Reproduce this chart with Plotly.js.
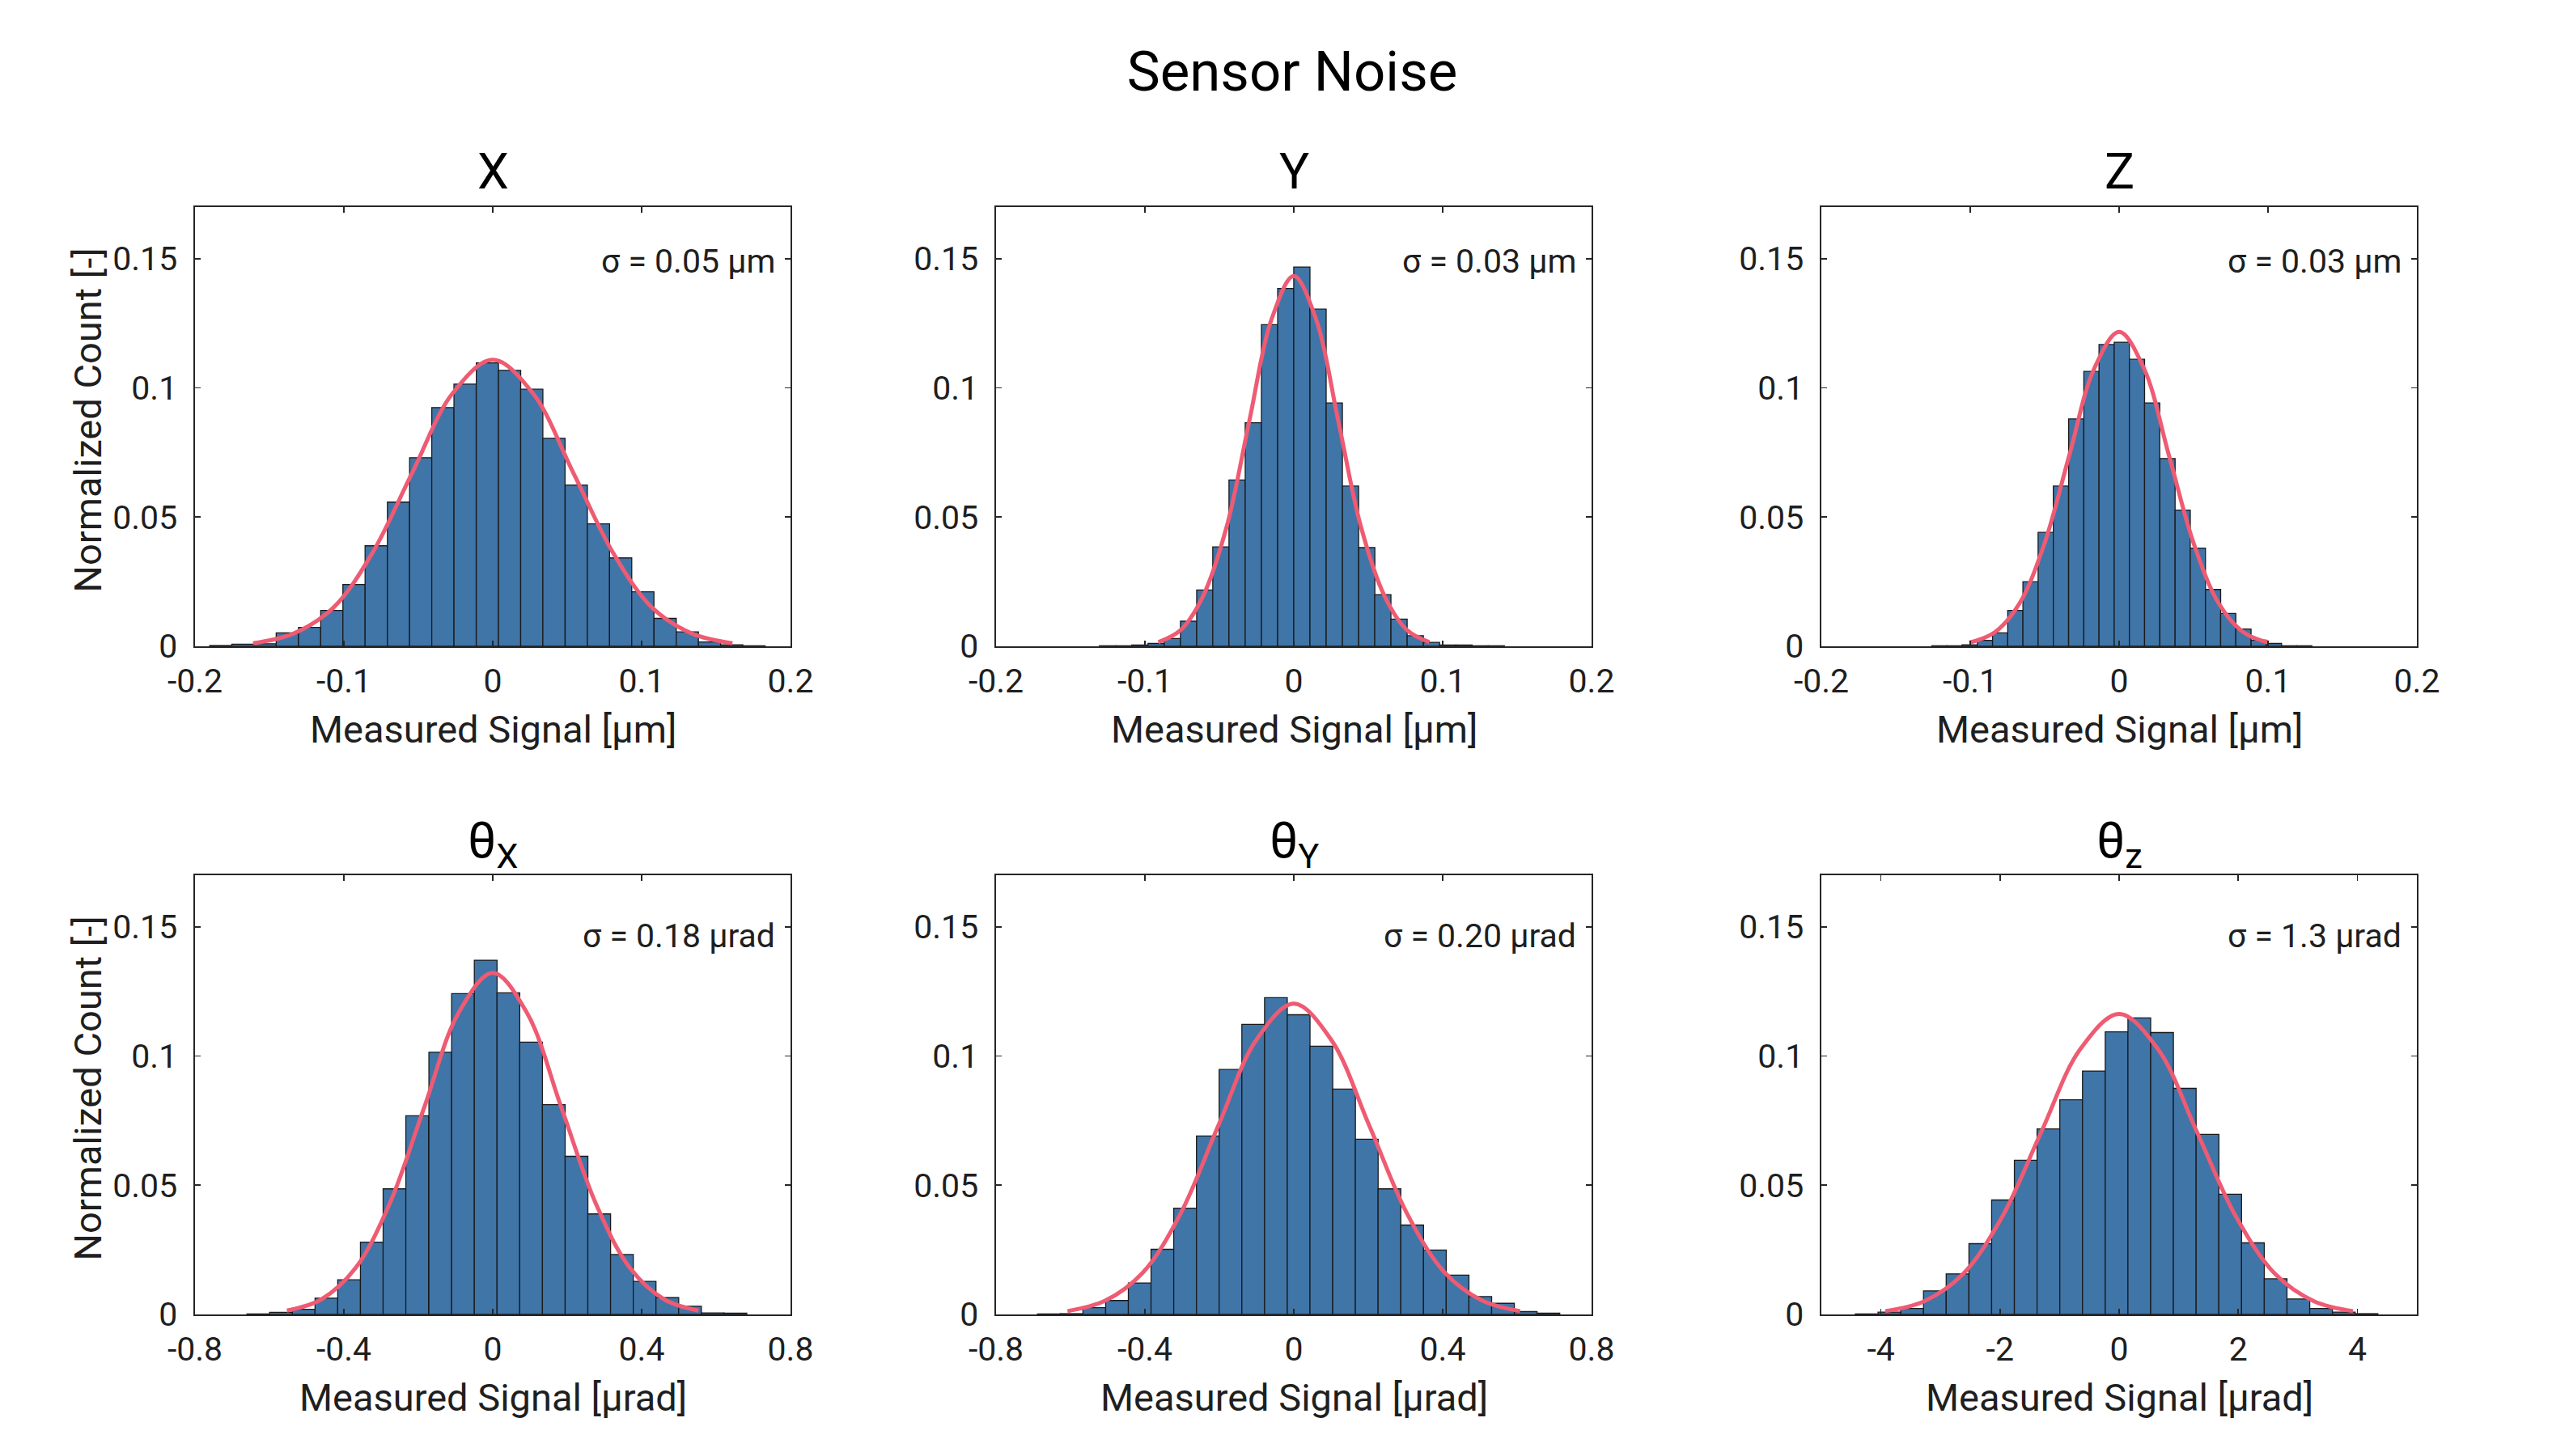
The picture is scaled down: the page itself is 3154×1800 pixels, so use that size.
<!DOCTYPE html>
<html>
<head>
<meta charset="utf-8">
<script src="https://cdn.plot.ly/plotly-3.0.1.min.js"></script>
<style>html,body{margin:0;padding:0;background:#fff;}#chart{width:3154px;height:1800px;}</style>
</head>
<body>
<div id="chart"></div>
<script>
// ---------- data ----------
const panelTitles = ['X', 'Y', 'Z', 'θ<sub>X</sub>', 'θ<sub>Y</sub>', 'θ<sub>z</sub>'];
const sigmaLabels = ['σ = 0.05 μm', 'σ = 0.03 μm', 'σ = 0.03 μm', 'σ = 0.18 μrad', 'σ = 0.20 μrad', 'σ = 1.3 μrad'];
const xAxisLabels = ['Measured Signal [μm]', 'Measured Signal [μm]', 'Measured Signal [μm]',
                     'Measured Signal [μrad]', 'Measured Signal [μrad]', 'Measured Signal [μrad]'];
const yAxisLabel = 'Normalized Count [-]';
const mainTitle = 'Sensor Noise';

const binWidths = [0.01492, 0.01088, 0.01022, 0.0611, 0.0611, 0.3815];

const binsX = [-0.1827, -0.1678, -0.1529, -0.1380, -0.1230, -0.1081, -0.0932, -0.0783, -0.0633, -0.0484, -0.0335, -0.0186, -0.0036, 0.0113, 0.0262, 0.0411, 0.0561, 0.0710, 0.0859, 0.1008, 0.1158, 0.1307, 0.1456, 0.1605, 0.1755];
const countsX = [0.0003, 0.0008, 0.0010, 0.0052, 0.0073, 0.0139, 0.0239, 0.0389, 0.0558, 0.0730, 0.0924, 0.1015, 0.1097, 0.1068, 0.0995, 0.0805, 0.0624, 0.0474, 0.0342, 0.0211, 0.0108, 0.0056, 0.0017, 0.0006, 0.0002];

const binsY = [-0.1251, -0.1143, -0.1034, -0.0925, -0.0816, -0.0707, -0.0598, -0.0490, -0.0381, -0.0272, -0.0163, -0.0054, 0.0054, 0.0163, 0.0272, 0.0381, 0.0490, 0.0598, 0.0707, 0.0816, 0.0925, 0.1034, 0.1143, 0.1251, 0.1360];
const countsY = [0.0002, 0.0002, 0.0005, 0.0011, 0.0030, 0.0097, 0.0218, 0.0385, 0.0644, 0.0865, 0.1245, 0.1385, 0.1468, 0.1305, 0.0942, 0.0620, 0.0382, 0.0200, 0.0105, 0.0041, 0.0015, 0.0005, 0.0005, 0.0002, 0.0002];

const binsZ = [-0.1208, -0.1106, -0.1004, -0.0901, -0.0799, -0.0697, -0.0595, -0.0493, -0.0391, -0.0288, -0.0186, -0.0084, 0.0018, 0.0120, 0.0222, 0.0325, 0.0427, 0.0529, 0.0631, 0.0733, 0.0835, 0.0938, 0.1040, 0.1142, 0.1244];
const countsZ = [0.0002, 0.0002, 0.0006, 0.0023, 0.0052, 0.0139, 0.0250, 0.0441, 0.0620, 0.0880, 0.1064, 0.1168, 0.1177, 0.1111, 0.0942, 0.0727, 0.0527, 0.0380, 0.0220, 0.0127, 0.0067, 0.0024, 0.0011, 0.0002, 0.0002];

const binsRx = [-0.630, -0.569, -0.508, -0.447, -0.386, -0.325, -0.264, -0.203, -0.141, -0.080, -0.019, 0.042, 0.103, 0.164, 0.225, 0.286, 0.347, 0.408, 0.469, 0.530, 0.591, 0.652];
const countsRx = [0.0002, 0.0008, 0.0020, 0.0063, 0.0134, 0.0280, 0.0486, 0.0769, 0.1015, 0.1242, 0.1371, 0.1245, 0.1054, 0.0812, 0.0612, 0.0389, 0.0232, 0.0128, 0.0065, 0.0032, 0.0006, 0.0005];

const binsRy = [-0.658, -0.597, -0.536, -0.475, -0.414, -0.353, -0.292, -0.231, -0.170, -0.109, -0.048, 0.013, 0.074, 0.135, 0.196, 0.257, 0.318, 0.379, 0.440, 0.501, 0.562, 0.623, 0.684];
const countsRy = [0.0002, 0.0003, 0.0026, 0.0054, 0.0122, 0.0252, 0.0411, 0.0691, 0.0948, 0.1123, 0.1226, 0.1160, 0.1038, 0.0872, 0.0678, 0.0486, 0.0346, 0.0249, 0.0152, 0.0069, 0.0043, 0.0011, 0.0005];

const binsRz = [-4.239, -3.857, -3.476, -3.094, -2.713, -2.331, -1.950, -1.568, -1.187, -0.805, -0.424, -0.042, 0.339, 0.721, 1.102, 1.484, 1.865, 2.247, 2.628, 3.010, 3.391, 3.773, 4.154];
const countsRz = [0.0002, 0.0009, 0.0023, 0.0091, 0.0157, 0.0274, 0.0443, 0.0597, 0.0718, 0.0831, 0.0942, 0.1094, 0.1148, 0.1091, 0.0875, 0.0697, 0.0465, 0.0277, 0.0138, 0.0060, 0.0023, 0.0009, 0.0003];

// fitted normal curves
const fitXx = [-0.161, -0.134, -0.107, -0.081, -0.054, -0.027, 0, 0.027, 0.054, 0.081, 0.107, 0.134, 0.161];
const fitXy = [0.0012, 0.0049, 0.0150, 0.0360, 0.0673, 0.0979, 0.1109, 0.0979, 0.0673, 0.0360, 0.0150, 0.0049, 0.0012];
const fitYx = [-0.091, -0.076, -0.061, -0.045, -0.030, -0.015, 0, 0.015, 0.030, 0.045, 0.061, 0.076, 0.091];
const fitYy = [0.0016, 0.0063, 0.0194, 0.0465, 0.0869, 0.1265, 0.1433, 0.1265, 0.0869, 0.0465, 0.0194, 0.0063, 0.0016];
const fitZx = [-0.1005, -0.0838, -0.0670, -0.0503, -0.0335, -0.0168, 0, 0.0168, 0.0335, 0.0503, 0.0670, 0.0838, 0.1005];
const fitZy = [0.0014, 0.0053, 0.0165, 0.0395, 0.0738, 0.1074, 0.1217, 0.1074, 0.0738, 0.0395, 0.0165, 0.0053, 0.0014];
const fitRxx = [-0.553, -0.461, -0.369, -0.277, -0.184, -0.092, 0, 0.092, 0.184, 0.277, 0.369, 0.461, 0.553];
const fitRxy = [0.0015, 0.0058, 0.0179, 0.0429, 0.0802, 0.1167, 0.1322, 0.1167, 0.0802, 0.0429, 0.0179, 0.0058, 0.0015];
const fitRyx = [-0.608, -0.507, -0.405, -0.304, -0.203, -0.101, 0, 0.101, 0.203, 0.304, 0.405, 0.507, 0.608];
const fitRyy = [0.0013, 0.0053, 0.0163, 0.0391, 0.0730, 0.1062, 0.1203, 0.1062, 0.0730, 0.0391, 0.0163, 0.0053, 0.0013];
const fitRzx = [-3.927, -3.273, -2.618, -1.964, -1.309, -0.655, 0, 0.655, 1.309, 1.964, 2.618, 3.273, 3.927];
const fitRzy = [0.0013, 0.0051, 0.0157, 0.0378, 0.0705, 0.1026, 0.1163, 0.1026, 0.0705, 0.0378, 0.0157, 0.0051, 0.0013];

const xRanges = [[-0.2, 0.2], [-0.2, 0.2], [-0.2, 0.2], [-0.8, 0.8], [-0.8, 0.8], [-5, 5]];
const xTickVals = [[-0.2, -0.1, 0, 0.1, 0.2], [-0.2, -0.1, 0, 0.1, 0.2], [-0.2, -0.1, 0, 0.1, 0.2],
                   [-0.8, -0.4, 0, 0.4, 0.8], [-0.8, -0.4, 0, 0.4, 0.8], [-4, -2, 0, 2, 4]];
const xTickText = [['-0.2', '-0.1', '0', '0.1', '0.2'], ['-0.2', '-0.1', '0', '0.1', '0.2'], ['-0.2', '-0.1', '0', '0.1', '0.2'],
                   ['-0.8', '-0.4', '0', '0.4', '0.8'], ['-0.8', '-0.4', '0', '0.4', '0.8'], ['-4', '-2', '0', '2', '4']];
const yRange = [0, 0.17];
const yTickVals = [0, 0.05, 0.1, 0.15];
const yTickText = ['0', '0.05', '0.1', '0.15'];

const binsAll = [binsX, binsY, binsZ, binsRx, binsRy, binsRz];
const countsAll = [countsX, countsY, countsZ, countsRx, countsRy, countsRz];
const fitXAll = [fitXx, fitYx, fitZx, fitRxx, fitRyx, fitRzx];
const fitYAll = [fitXy, fitYy, fitZy, fitRxy, fitRyy, fitRzy];

// ---------- layout geometry (pixels of the 3154x1800 canvas) ----------
const W = 3154, H = 1800;
const colPx = [[241, 977], [1231, 1967], [2251, 2987]];
const rowPx = [[256, 799], [1082, 1625]];
const titleDrop = [2, 12];

const FONT = 'Roboto, "Noto Sans", sans-serif';
const TXT = '#1f1f1f';
const AX = '#262626';
const BAR = '#4075a8';
const FIT = '#ee5b73';

const traces = [];
const layout = {
  width: W, height: H,
  margin: {l: 0, r: 0, t: 0, b: 0},
  paper_bgcolor: '#ffffff', plot_bgcolor: '#ffffff',
  showlegend: false,
  bargap: 0,
  font: {family: FONT, color: TXT, size: 41},
  title: {text: mainTitle, x: 1597 / W, xanchor: 'center', xref: 'paper',
          y: 1 - 88 / H, yanchor: 'middle', yref: 'paper',
          font: {family: FONT, size: 69, color: '#000000'}},
  annotations: []
};

for (let i = 0; i < 6; i++) {
  const r = Math.floor(i / 3), c = i % 3;
  const xa = 'x' + (i === 0 ? '' : i + 1), ya = 'y' + (i === 0 ? '' : i + 1);
  const xk = 'xaxis' + (i === 0 ? '' : i + 1), yk = 'yaxis' + (i === 0 ? '' : i + 1);
  const x0 = colPx[c][0], x1 = colPx[c][1], y0 = rowPx[r][0], y1 = rowPx[r][1];

  traces.push({
    type: 'bar', x: binsAll[i], y: countsAll[i], width: binWidths[i],
    xaxis: xa, yaxis: ya,
    marker: {color: BAR, line: {color: '#1a1a1a', width: 1.3}},
    hoverinfo: 'x+y'
  });
  traces.push({
    type: 'scatter', mode: 'lines', x: fitXAll[i], y: fitYAll[i],
    xaxis: xa, yaxis: ya,
    line: {color: FIT, width: 5, shape: 'spline', smoothing: 1.0}
  });

  const common = {
    showline: true, linecolor: AX, linewidth: 1.6, mirror: 'ticks',
    ticks: 'inside', ticklen: 7, tickwidth: 1.6, tickcolor: AX,
    showgrid: false, zeroline: false, fixedrange: true,
    tickfont: {family: FONT, size: 41, color: TXT}
  };
  layout[xk] = Object.assign({}, common, {
    domain: [x0 / W, x1 / W], anchor: ya, range: xRanges[i],
    tickmode: 'array', tickvals: xTickVals[i], ticktext: xTickText[i],
    ticklabelstandoff: 6
  });
  layout[yk] = Object.assign({}, common, {
    domain: [1 - y1 / H, 1 - y0 / H], anchor: xa, range: yRange,
    tickmode: 'array', tickvals: yTickVals, ticktext: yTickText,
    ticklabelstandoff: 12
  });

  // panel title
  layout.annotations.push({
    text: panelTitles[i], xref: 'paper', yref: 'paper',
    x: ((x0 + x1) / 2) / W, xanchor: 'center',
    y: 1 - (y0 - 8 + titleDrop[r]) / H, yanchor: 'bottom', showarrow: false,
    font: {family: FONT, size: 62, color: '#000000'}
  });
  // sigma label
  layout.annotations.push({
    text: sigmaLabels[i], xref: xa + ' domain', yref: ya,
    x: 0.977, xanchor: 'right', y: r === 0 ? 0.149 : 0.1465, yanchor: 'middle',
    showarrow: false, font: {family: FONT, size: 41, color: TXT}
  });
  // x axis title
  layout.annotations.push({
    text: xAxisLabels[i], xref: 'paper', yref: 'paper',
    x: ((x0 + x1) / 2) / W, xanchor: 'center',
    y: 1 - (y1 + 102) / H, yanchor: 'middle', showarrow: false,
    font: {family: FONT, size: 47, color: TXT}
  });
  // y axis title (left column only)
  if (c === 0) {
    layout.annotations.push({
      text: yAxisLabel, xref: 'paper', yref: 'paper',
      x: 108 / W, xanchor: 'center',
      y: 1 - ((y0 + y1) / 2 - 8) / H, yanchor: 'middle', textangle: -90, showarrow: false,
      font: {family: FONT, size: 47, color: TXT}
    });
  }
}

Plotly.newPlot('chart', traces, layout, {staticPlot: true, displayModeBar: false});
</script>
</body>
</html>
